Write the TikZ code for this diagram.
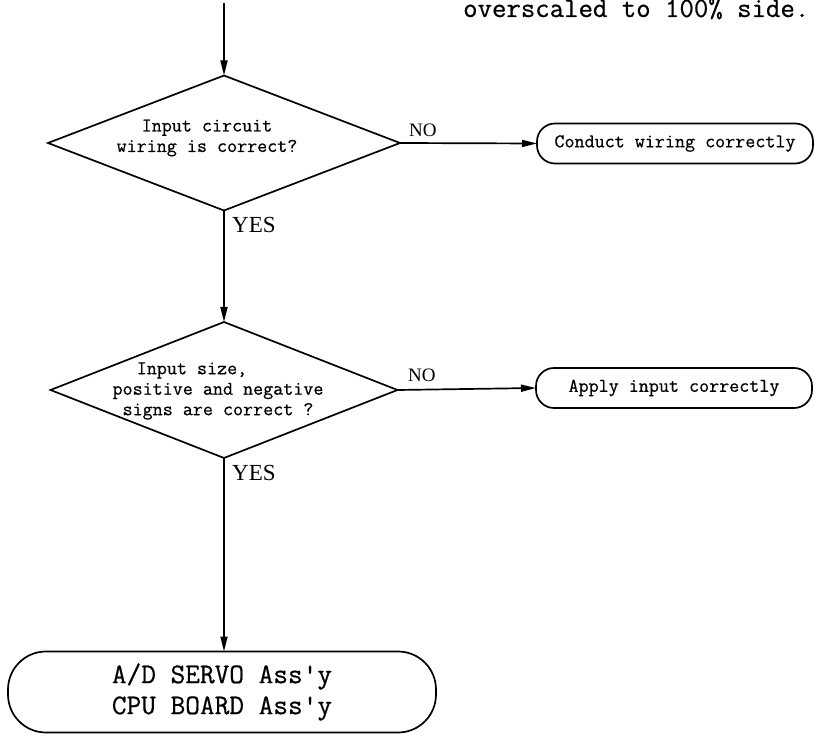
\documentclass[tikz,border=0pt]{standalone}
\usepackage{fontspec}
\setmainfont{Liberation Serif}
\newfontfamily\typefont{Latin Modern Mono}[FakeBold=0.6]
\usetikzlibrary{shapes.geometric,arrows.meta}
\begin{document}
\begin{tikzpicture}[x=1pt,y=-1pt,
  flow/.style={line width=1.7pt},
  arr/.style={flow,-{Triangle[length=15pt,width=7pt]}},
  decision/.style={diamond,draw,line width=1.7pt,inner sep=0pt,outer sep=0pt},
  terminal/.style={rectangle,draw,line width=1.7pt,inner sep=0pt,outer sep=0pt,
    rounded corners=18pt,minimum width=276pt,minimum height=40pt,
    font=\typefont\fontsize{19.5}{20}\selectfont},
  qtext/.style={align=center,inner sep=0pt,font=\typefont\fontsize{19.5}{20.5}\selectfont},
  nolabel/.style={inner sep=0pt,anchor=base west,font=\fontsize{19}{22}\selectfont},
  yeslabel/.style={inner sep=0pt,anchor=base west,font=\fontsize{23}{26}\selectfont}
]
\useasboundingbox[fill=white] (0,0) rectangle (815,743);

% header line, running off the top edge of the sheet
\node[inner sep=0pt,anchor=base west,font=\typefont\fontsize{28}{29}\selectfont]
  (head) at (463,17) {overscaled to 100\% side.};

% first check
\coordinate (start) at (224,3);
\node[decision,minimum width=352pt,minimum height=135pt] (d1) at (224,143) {};
\node[qtext] (d1t) at (207,138) {Input circuit\\wiring is correct?};
\node[terminal] (t1) at (675,143.5) {Conduct wiring correctly};

% second check
\node[decision,minimum width=347pt,minimum height=136pt] (d2) at (224,390) {};
\node[qtext] (d2t) at (218,391) {Input size,\rule{52pt}{0pt}\\positive and negative\\signs are correct ?};
\node[terminal] (t2) at (674,388) {Apply input correctly};

% end of the chart
\node[rectangle,draw,line width=1.7pt,inner sep=0pt,outer sep=0pt,rounded corners=38pt,
  minimum width=428pt,minimum height=81pt,align=center,
  font=\typefont\fontsize{28.5}{31}\selectfont] (t3) at (222,692) {A/D SERVO Ass'y\\CPU BOARD Ass'y};

% connectors
\draw[arr] (start) -- (d1.north);
\draw[arr] (d1.east) -- (t1.west);
\draw[arr] (d1.south) -- (d2.north);
\draw[arr] (d2.east) -- (t2.west);
\draw[arr] (d2.south) -- (d2.south |- t3.north);

% branch labels
\node[nolabel] (no1) at (409,137) {NO};
\node[yeslabel] (yes1) at (232,233) {YES};
\node[nolabel] (no2) at (408,382) {NO};
\node[yeslabel] (yes2) at (232,481) {YES};
\end{tikzpicture}
\end{document}
